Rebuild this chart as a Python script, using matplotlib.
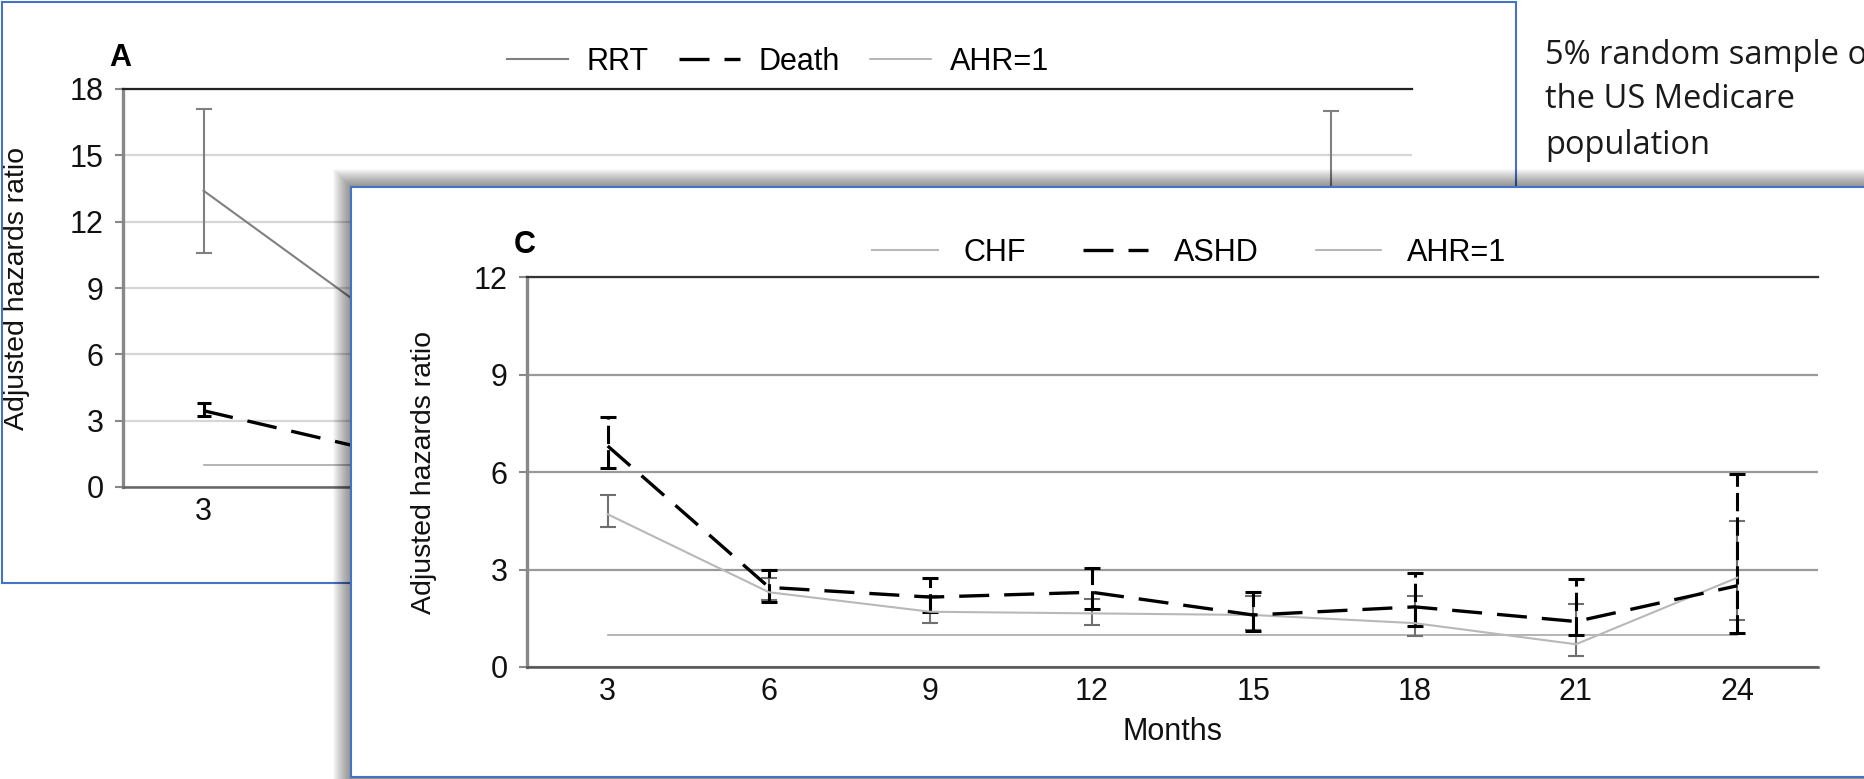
import matplotlib.pyplot as plt
from matplotlib.patches import Rectangle

W, H = 1864, 779

months = [3, 6, 9, 12, 15, 18, 21, 24]
month_labels = ['3', '6', '9', '12', '15', '18', '21', '24']

# panel A: renal replacement therapy / death
rrt = [13.4, 8.1, 6.6, 5.9, 5.4, 5.1, 4.8, 7.0]
rrt_lo = [10.6, 6.0, 4.9, 4.3, 3.8, 3.5, 3.1, 2.9]
rrt_hi = [17.1, 10.9, 8.9, 8.1, 7.6, 7.4, 7.4, 17.0]
death = [3.45, 1.75, 1.55, 1.45, 1.35, 1.3, 1.25, 1.35]
death_lo = [3.2, 1.55, 1.35, 1.25, 1.15, 1.1, 1.0, 1.0]
death_hi = [3.8, 2.0, 1.8, 1.7, 1.6, 1.55, 1.55, 1.8]

# panel C: CHF / ASHD
chf = [4.7, 2.3, 1.7, 1.65, 1.6, 1.35, 0.7, 2.75]
chf_lo = [4.3, 2.05, 1.35, 1.28, 1.15, 0.95, 0.35, 1.45]
chf_hi = [5.3, 2.75, 2.2, 2.1, 2.2, 2.2, 1.95, 4.5]
ashd = [6.8, 2.45, 2.15, 2.3, 1.6, 1.85, 1.4, 2.5]
ashd_lo = [6.13, 2.0, 1.7, 1.8, 1.1, 1.25, 1.0, 1.05]
ashd_hi = [7.68, 2.97, 2.73, 3.05, 2.31, 2.88, 2.7, 5.95]

ahr = [1] * len(months)

note_lines = ['5% random sample of', 'the US Medicare', 'population']

plt.rcParams['font.family'] = ['Liberation Sans', 'DejaVu Sans']
blue = '#4472c4'
FS = 22

fig = plt.figure(figsize=(W / 100, H / 100), dpi=100)


def rect(x0, y0, x1, y1):
    # pixel box (top-left origin) -> figure fraction [left, bottom, width, height]
    return [x0 / W, 1 - y1 / H, (x1 - x0) / W, (y1 - y0) / H]


def errs(v, lo, hi):
    return [[a - b for a, b in zip(v, lo)], [b - a for a, b in zip(v, hi)]]


def setup(ax, top, grid_color, top_color, bottom_color):
    ax.set_xlim(1.5, 25.5)
    ax.set_ylim(0, top)
    ax.set_yticks(range(0, top + 1, 3))
    ax.set_xticks(months)
    ax.set_xticklabels(month_labels)
    ax.tick_params(axis='x', length=0, pad=7, labelsize=FS, labelcolor='#111111')
    ax.tick_params(axis='y', length=6, width=1.5, color='#888888', pad=8, labelsize=FS,
                   labelcolor='#111111')
    ax.spines['right'].set_visible(False)
    ax.spines['top'].set_color(top_color)
    ax.spines['top'].set_linewidth(1.6)
    ax.spines['bottom'].set_color(bottom_color)
    ax.spines['bottom'].set_linewidth(1.8)
    ax.spines['left'].set_color('#888888')
    ax.spines['left'].set_linewidth(2.4)
    ax.set_axisbelow(True)
    ax.yaxis.grid(True, color=grid_color, lw=1.6)
    ax.set_ylabel('Adjusted hazards ratio', fontsize=20.5, color='#111111')


# frame of panel A
fig.patches.append(Rectangle((1.5 / W, 1 - 583 / H), 1514.5 / W, 581.5 / H,
                             transform=fig.transFigure, fill=False,
                             ec=blue, lw=1.5, zorder=0.5))

axA = fig.add_axes(rect(123, 89, 1412, 487), zorder=0)
setup(axA, 18, '#d6d6d6', '#222222', '#666666')
axA.yaxis.set_label_coords(-0.072, 0.5)

axA.plot(months, ahr, color='#a8a8a8', lw=1.2)
ra = axA.errorbar(months, rrt, yerr=errs(rrt, rrt_lo, rrt_hi), color='#808080',
                  lw=1.5, elinewidth=1.5, capsize=5.5, capthick=1.5)
da = axA.errorbar(months, death, yerr=errs(death, death_lo, death_hi), color='black',
                  lw=2.4, elinewidth=2.2, capsize=5, capthick=2.2, dashes=(9, 4.5))
la = axA.lines[0]
axA.legend([ra[0], da[0], la], ['RRT', 'Death', 'AHR=1'], loc='center',
           bbox_to_anchor=(0.508, 1.068), ncol=3, frameon=False, fontsize=FS,
           handlelength=2.0, handletextpad=0.6, columnspacing=1.0)
fig.text(109 / W, 1 - 58 / H, 'A', fontsize=FS, fontweight='bold', va='center')

# soft shadow behind panel C
for k in range(1, 19):
    fig.patches.append(Rectangle(((351 - k) / W, -0.1), 2, (H - 187 + k) / H + 0.1,
                                 transform=fig.transFigure, fc='black', alpha=0.026,
                                 lw=0, zorder=1))

# frame of panel C
fig.patches.append(Rectangle((351 / W, 1 - 777 / H), (W + 20 - 351) / W, (777 - 187) / H,
                             transform=fig.transFigure, fc='white',
                             ec=blue, lw=1.5, zorder=2))

axC = fig.add_axes(rect(527, 277, 1818, 667), zorder=3)
axC.patch.set_alpha(0)
setup(axC, 12, '#9a9a9a', '#333333', '#555555')
axC.yaxis.set_label_coords(-0.0697, 0.5)
axC.set_xlabel('Months', fontsize=FS, color='#111111')
axC.xaxis.set_label_coords(0.5, -0.128)

lc = axC.plot(months, ahr, color='#a8a8a8', lw=1.2)[0]
cc = axC.errorbar(months, chf, yerr=errs(chf, chf_lo, chf_hi), color='#b8b8b8',
                  ecolor='#707070', lw=1.5, elinewidth=1.5, capsize=5.5, capthick=1.5)
ac = axC.errorbar(months, ashd, yerr=errs(ashd, ashd_lo, ashd_hi), color='black',
                  lw=2.4, elinewidth=2.2, capsize=5.5, capthick=2.2, dashes=(9, 4.5))
ac[2][0].set_linestyle((0, (6, 2)))
axC.legend([cc[0], ac[0], lc], ['CHF', 'ASHD', 'AHR=1'], loc='center',
           bbox_to_anchor=(0.513, 1.0615), ncol=3, frameon=False, fontsize=FS,
           handlelength=2.15, handletextpad=0.85, columnspacing=1.85)
fig.text(514 / W, 1 - 245 / H, 'C', fontsize=FS, fontweight='bold', va='center', zorder=4)

# note beside the panels, running off the right edge
for i, line in enumerate(note_lines):
    fig.text(1545 / W, 1 - (63.5 + 45 * i) / H, line, family='Open Sans', fontsize=23.5,
             va='baseline', color='#1a1a1a')

fig.savefig('out.png', dpi=100)
